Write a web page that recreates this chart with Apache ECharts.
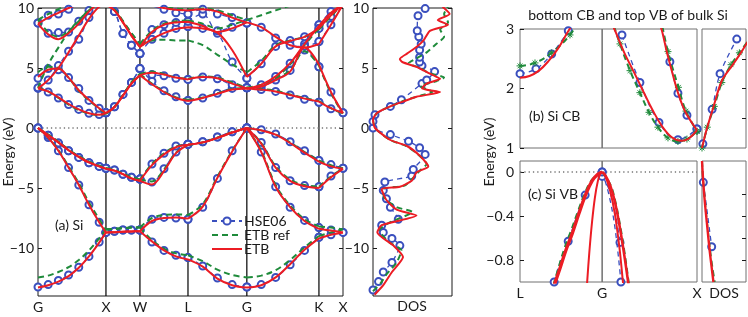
<!DOCTYPE html>
<html><head><meta charset="utf-8">
<script src="https://cdn.jsdelivr.net/npm/echarts@6/dist/echarts.min.js"></script>
<style>html,body{margin:0;padding:0;background:#fff}#c{width:748px;height:317px}</style>
</head><body><div id="c"></div>
<script>
// ---------------- DATA ----------------
// k-path positions (units of 2pi/a) of symmetry points and their labels
const kSym = [0, 1, 1.5, 2.207, 3.073, 4.134, 4.488];
const kLabels = ['G', 'X', 'W', 'L', 'G', 'K', 'X'];
// sampling along the path: G-X | X-W | W-L | L-G | G-K | K-X
const kGrid = [0,0.15,0.3,0.45,0.6,0.75,0.9,1.0, 1.0,1.125,1.25,1.375,1.5, 1.5,1.677,1.854,2.03,2.207, 2.207,2.424,2.64,2.857,3.073, 3.073,3.285,3.497,3.71,3.922,4.134, 4.134,4.311,4.488];
const segEnds = [7, 12, 17, 22, 28];

// ETB bands (eV)
const etb1 = [-13.3,-13.1,-12.8,-12.35,-11.65,-10.7,-9.55,-8.7, -8.7,-8.68,-8.65,-8.62,-8.6, -8.6,-9.45,-10.2,-10.7,-10.95, -10.95,-11.55,-12.55,-13.1,-13.3, -13.3,-13.1,-12.45,-11.35,-10.15,-9.2, -9.2,-8.9,-8.7];
const etb2 = [0,-0.8,-1.9,-3.3,-4.75,-6.4,-7.85,-8.7, -8.7,-8.68,-8.65,-8.62,-8.6, -8.6,-7.75,-7.5,-7.45,-7.55, -7.55,-6.55,-4.15,-1.95,0, 0,-2.0,-4.9,-6.6,-7.75,-8.4, -8.4,-8.55,-8.7];
const etb3 = [0,-0.6,-1.2,-1.85,-2.4,-2.87,-3.2,-3.4, -3.4,-3.55,-3.85,-4.2,-4.4, -4.4,-4.7,-3.6,-2.1,-1.4, -1.4,-1.2,-0.82,-0.38,0, 0,-1.3,-3.3,-4.4,-4.85,-5.0, -5.0,-4.1,-3.4];
const etb4 = [0,-0.6,-1.2,-1.85,-2.4,-2.87,-3.2,-3.4, -3.4,-3.55,-3.85,-4.2,-4.4, -4.4,-3.1,-2.2,-1.6,-1.4, -1.4,-1.2,-0.82,-0.38,0, 0,-0.2,-0.55,-1.25,-2.05,-2.8, -2.8,-3.2,-3.4];
const etb5 = [3.3,3.05,2.55,2.0,1.55,1.23,1.1,1.25, 1.25,1.75,2.7,3.7,4.4, 4.4,3.65,3.0,2.5,2.25, 2.25,2.5,2.85,3.2,3.3, 3.3,3.2,3.05,2.75,2.45,2.2, 2.2,1.65,1.25];
const etb6 = [4.25,4.85,4.95,4.2,3.15,2.35,1.65,1.25, 1.25,1.75,2.7,3.7,4.4, 4.4,4.6,4.45,4.2,4.05, 4.05,4.25,4.15,3.7,3.3, 3.3,3.45,4.0,4.7,6.7,5.3, 5.3,3.0,1.25];
const etb7 = [3.3,4.0,5.0,6.3,7.7,9.1,10.1,10.3, 10.3,9.8,8.8,7.7,6.75, 6.75,7.4,7.9,8.25,8.4, 8.4,8.3,7.95,6.5,4.25, 3.3,3.6,4.3,5.4,7.0,8.5, 8.5,9.6,10.3];
const etb8 = [8.7,9.2,9.6,10.0,10.3,10.4,10.4,10.3, 10.3,9.8,8.8,7.7,6.75, 6.75,8.0,8.6,8.8,8.85, 8.85,8.5,8.0,8.3,8.8, 4.25,5.35,6.8,7.25,7.6,8.3, 8.3,9.4,10.3];
const etb9 = [8.7,7.8,7.4,7.9,8.7,9.7,10.5,11, 11,11,11,11,11, 11,10.3,10.0,9.85,9.8, 9.8,9.9,9.7,9.2,8.8, 8.8,8.4,7.6,6.9,6.7,7.0, 7.0,8.6,10.3];

// ETB ref bands (eV)
const ref1 = [-12.45,-12.3,-12.0,-11.6,-11.0,-10.2,-9.2,-8.45, -8.45,-8.4,-8.35,-8.3,-8.3, -8.3,-9.35,-10.05,-10.45,-10.6, -10.6,-11.1,-11.8,-12.25,-12.45, -12.45,-12.3,-11.85,-11.0,-9.95,-9.0, -9.0,-8.7,-8.45];
const ref2 = [0,-0.8,-1.85,-3.2,-4.6,-6.2,-7.6,-8.45, -8.45,-8.4,-8.35,-8.3,-8.3, -8.3,-7.5,-7.25,-7.2,-7.25, -7.25,-6.35,-4.05,-1.9,0, 0,-1.9,-4.75,-6.45,-7.6,-8.2, -8.2,-8.3,-8.45];
const ref3 = [0,-0.55,-1.15,-1.8,-2.35,-2.8,-3.15,-3.35, -3.35,-3.5,-3.8,-4.1,-4.3, -4.3,-4.45,-3.45,-2.05,-1.4, -1.4,-1.2,-0.8,-0.35,0, 0,-1.25,-3.2,-4.3,-4.75,-4.9, -4.9,-4.05,-3.35];
const ref4 = [0,-0.55,-1.15,-1.8,-2.35,-2.8,-3.15,-3.35, -3.35,-3.5,-3.8,-4.1,-4.3, -4.3,-3.0,-2.1,-1.55,-1.4, -1.4,-1.2,-0.8,-0.35,0, 0,-0.2,-0.55,-1.2,-2.0,-2.7, -2.7,-3.1,-3.35];
const ref5 = [3.35,3.05,2.5,1.95,1.5,1.2,1.08,1.2, 1.2,1.75,2.75,3.8,4.5, 4.5,3.7,3.05,2.55,2.35, 2.35,2.55,2.9,3.25,3.35, 3.35,3.25,3.1,2.8,2.5,2.25, 2.25,1.65,1.2];
const ref6 = [4.65,5.1,5.0,4.2,3.1,2.3,1.6,1.2, 1.2,1.75,2.75,3.8,4.5, 4.5,4.7,4.5,4.2,4.1, 4.1,4.3,4.2,3.8,3.35, 3.35,3.5,4.1,4.8,6.4,5.2, 5.2,2.9,1.2];
const ref7 = [3.35,5.3,6.7,8.0,9.0,9.8,10.3,10.4, 10.4,9.9,8.9,7.9,7.0, 7.0,7.3,7.35,7.3,7.3, 7.3,6.9,6.1,5.3,4.65, 3.35,3.6,4.2,5.3,6.9,8.3, 8.3,9.4,10.4];
const ref8 = [9.0,9.5,9.9,10.3,10.5,10.5,10.4,10.4, 10.4,9.9,8.9,7.9,7.0, 7.0,8.1,8.7,8.9,8.95, 8.95,8.7,8.3,8.6,9.0, 4.65,5.6,6.9,7.3,7.6,8.2, 8.2,9.3,10.4];
const ref9 = [9.0,8.0,7.6,8.1,8.9,9.9,10.6,11, 11,11,11,11,11, 11,10.4,10.1,9.95,9.9, 9.9,9.95,9.8,9.4,9.0, 9.0,9.4,9.8,10.2,10.6,11, 11,11,11];

// HSE06 bands (eV)
const hse1 = [-13.25,-13.05,-12.7,-12.25,-11.6,-10.7,-9.5,-8.7, -8.7,-8.6,-8.5,-8.5,-8.5, -8.5,-9.5,-10.2,-10.6,-10.8, -10.8,-11.5,-12.5,-13.05,-13.25, -13.25,-13.05,-12.45,-11.4,-10.2,-9.1, -9.1,-8.9,-8.7];
const hse2 = [0,-0.8,-1.9,-3.3,-4.75,-6.4,-7.85,-8.7, -8.7,-8.6,-8.5,-8.5,-8.5, -8.5,-7.6,-7.45,-7.5,-7.6, -7.6,-6.6,-4.2,-1.9,0, 0,-2.0,-4.9,-6.6,-7.7,-8.3, -8.3,-8.5,-8.7];
const hse3 = [0,-0.6,-1.25,-1.9,-2.45,-2.9,-3.2,-3.35, -3.35,-3.5,-3.85,-4.1,-4.26, -4.26,-4.5,-3.4,-2.0,-1.35, -1.35,-1.15,-0.75,-0.32,0, 0,-1.2,-3.3,-4.4,-4.8,-4.9, -4.9,-4.0,-3.35];
const hse4 = [0,-0.6,-1.25,-1.9,-2.45,-2.9,-3.2,-3.35, -3.35,-3.5,-3.85,-4.1,-4.26, -4.26,-3.0,-2.1,-1.5,-1.35, -1.35,-1.15,-0.75,-0.32,0, 0,-0.15,-0.5,-1.15,-1.9,-2.7, -2.7,-3.05,-3.35];
const hse5 = [3.3,3.0,2.5,1.95,1.55,1.22,1.12,1.27, 1.27,1.77,2.8,3.8,4.95, 4.95,3.9,3.1,2.6,2.3, 2.3,2.5,2.9,3.3,3.35, 3.35,3.2,3.05,2.75,2.4,2.15, 2.15,1.6,1.27];
const hse6 = [4.15,4.95,4.85,4.2,3.3,2.3,1.65,1.27, 1.27,1.77,2.8,3.8,4.95, 4.95,4.45,4.35,4.15,4.05, 4.05,4.25,4.1,3.6,3.35, 3.35,3.45,4.0,4.8,6.5,5.1, 5.1,3.0,1.27];
const hse7 = [3.35,4.0,5.2,6.4,7.4,9.2,10.2,10.4, 10.4,9.7,7.87,6.9,6.2, 6.2,7.4,7.9,8.3,8.45, 8.45,8.3,7.9,5.5,4.15, 3.35,3.6,4.3,5.4,7.0,8.6, 8.6,9.7,10.4];
const hse8 = [8.75,9.4,9.5,9.9,10.3,10.4,10.4,10.4, 10.4,9.7,7.87,6.9,6.2, 6.2,8.2,8.6,8.8,8.9, 8.9,9.5,8.1,8.4,8.75, 4.15,5.35,6.8,7.3,7.6,8.3, 8.3,9.3,10.4];
const hse9 = [8.75,7.9,7.95,8.0,8.9,9.8,10.5,11, 11,11,11,11,11, 11,10.2,9.9,9.6,9.5, 9.5,9.9,9.5,9.2,8.75, 8.75,8.4,7.5,6.9,6.8,7.2, 7.2,8.6,10.4];

// Density of states [DOS (arb.), E (eV)]
const dosETB = [[0.02,-13.9],[0.13,-13.1],[0.24,-12.0],[0.38,-10.75],[0.26,-9.8],[0.055,-8.7],[0.11,-8.1],[0.55,-7.3],[0.30,-6.8],[0.17,-6.0],[0.11,-5.1],[0.34,-4.9],[0.49,-4.4],[0.55,-3.7],[0.70,-3.2],[0.59,-2.3],[0.43,-1.5],[0.22,-1.0],[0.025,0],[0.0,0.7],[0.05,1.25],[0.22,1.8],[0.38,2.2],[0.55,2.6],[0.85,3.0],[0.62,3.3],[0.68,3.7],[0.85,4.1],[0.76,4.4],[0.64,4.8],[0.55,5.09],[0.37,5.5],[0.34,5.75],[0.43,6.2],[0.55,6.75],[0.64,7.3],[0.72,8.1],[0.95,8.6],[0.82,9.0],[0.97,9.5],[0.88,10.1]];
const dosREF = [[0.0,-13.6],[0.1,-12.9],[0.17,-12.2],[0.3,-11.2],[0.36,-10.2],[0.2,-9.5],[0.08,-8.5],[0.2,-7.9],[0.5,-7.0],[0.3,-6.6],[0.14,-5.8],[0.13,-5.1],[0.4,-4.8],[0.5,-4.2],[0.6,-3.5],[0.68,-3.0],[0.57,-2.2],[0.42,-1.5],[0.22,-1.0],[0.03,-0.05],[0.0,0.7],[0.06,1.3],[0.24,1.85],[0.4,2.3],[0.6,2.7],[0.75,3.0],[0.6,3.5],[0.8,3.9],[0.9,4.2],[0.7,4.6],[0.6,5.0],[0.45,5.4],[0.55,5.8],[0.68,6.3],[0.8,7.0],[0.9,7.6],[0.85,8.2],[0.95,8.8],[0.9,9.5],[0.95,10.1]];
const dosHSE = [[0.0,-13.5],[0.07,-12.8],[0.13,-12.0],[0.24,-11.2],[0.34,-9.8],[0.24,-9.2],[0.13,-8.7],[0.11,-8.1],[0.32,-7.6],[0.22,-6.6],[0.17,-5.9],[0.13,-5.2],[0.15,-4.5],[0.49,-4.0],[0.51,-3.45],[0.66,-2.2],[0.59,-1.65],[0.45,-1.1],[0.22,-0.55],[0.0,0],[0.0,0.55],[0.025,1.1],[0.22,1.8],[0.36,2.35],[0.62,3.7],[0.68,4.0],[0.78,4.7],[0.62,5.2],[0.59,5.5],[0.59,5.9],[0.59,6.5],[0.61,7.0],[0.58,7.6],[0.56,8.1],[0.57,9.35],[0.66,9.95]];

// (b) bottom CB along L-G-X (L=0, G=0.866, X=1.866) [k, E]
const cbL_ETB = [[0,2.18],[0.1,2.21],[0.2,2.3],[0.3,2.46],[0.4,2.67],[0.5,2.94],[0.56,3.1]];
const cbL_REF = [[0,2.38],[0.158,2.43],[0.334,2.6],[0.527,2.9],[0.6,3.1]];
const cbL_HSE = [[0,2.25],[0.168,2.33],[0.334,2.58],[0.509,2.97]];
const cb1_ETB = [[0.98,3.05],[1.0,2.98],[1.1,2.6],[1.2,2.28],[1.3,1.95],[1.4,1.63],[1.5,1.36],[1.6,1.18],[1.7,1.12],[1.78,1.16],[1.866,1.3]];
const cb1_REF = [[0.99,3.05],[1.054,2.75],[1.16,2.3],[1.264,1.93],[1.36,1.6],[1.454,1.35],[1.56,1.17],[1.665,1.11],[1.76,1.15],[1.866,1.28]];
const cb1_HSE = [[1.075,2.9],[1.264,2.1],[1.465,1.43],[1.665,1.14],[1.866,1.32]];
const cb2_ETB = [[1.48,3.05],[1.5,2.95],[1.55,2.6],[1.6,2.3],[1.665,1.93],[1.73,1.65],[1.79,1.48],[1.866,1.3]];
const cb2_REF = [[1.5,3.05],[1.56,2.62],[1.67,2.02],[1.75,1.62],[1.866,1.28]];
const cb2_HSE = [[1.49,3.05],[1.58,2.45],[1.665,1.92],[1.76,1.55],[1.866,1.32]];
const dosB_ETB = [[0,1.0],[0.1,1.3],[0.26,1.69],[0.45,2.13],[0.71,2.41],[0.9,2.62],[1.05,2.8]];
const dosB_REF = [[0,1.0],[0.12,1.35],[0.28,1.7],[0.45,2.1],[0.66,2.4],[0.85,2.6],[1.05,2.8]];
const dosB_HSE = [[0.02,1.07],[0.23,1.65],[0.41,2.25],[0.79,2.83]];

// (c) top VB [k, E]
const vbHH_ETB = [[0.36,-1.03],[0.42,-0.88],[0.48,-0.72],[0.55,-0.56],[0.62,-0.38],[0.69,-0.21],[0.76,-0.08],[0.82,-0.02],[0.866,0]];
const vbLH_ETB = [[0.70,-1.1],[0.73,-0.74],[0.76,-0.45],[0.79,-0.23],[0.82,-0.085],[0.845,-0.02],[0.866,0]];
const vbA_ETB = [[0.866,0],[0.9,-0.03],[0.95,-0.12],[1.0,-0.27],[1.05,-0.49],[1.1,-0.76],[1.14,-1.0],[1.15,-1.07]];
const vbB_ETB = [[0.866,0],[0.9,-0.04],[0.95,-0.17],[1.0,-0.38],[1.05,-0.7],[1.085,-1.0],[1.095,-1.08]];
const vbHH_REF = [[0.35,-1.03],[0.41,-0.86],[0.47,-0.69],[0.54,-0.53],[0.61,-0.36],[0.68,-0.2],[0.75,-0.08],[0.82,-0.02],[0.866,0]];
const vbA_REF = [[0.866,0],[0.95,-0.11],[1.0,-0.25],[1.05,-0.46],[1.1,-0.72],[1.145,-1.0],[1.155,-1.07]];
const vbHH_HSE = [[0.36,-1.0],[0.43,-0.8],[0.508,-0.63],[0.6,-0.4],[0.687,-0.21],[0.78,-0.06],[0.866,0]];
const vbHH_HSEmark = [true, false, true, false, true, false, true];
const vbA_HSE = [[0.866,-0.04],[0.93,-0.14],[1.0,-0.36],[1.054,-0.64]];
const vbB_HSE = [[0.866,0],[0.93,-0.18],[1.0,-0.5],[1.064,-1.0]];
const vbAB_HSEmark = [true, false, false, true];
const dosC_ETB = [[0.0,0.1],[0.03,-0.1],[0.07,-0.3],[0.12,-0.5],[0.17,-0.7],[0.22,-0.87],[0.26,-1.0]];
const dosC_REF = [[0.0,0.1],[0.03,-0.1],[0.075,-0.3],[0.125,-0.5],[0.18,-0.7],[0.24,-0.88],[0.29,-1.0]];
const dosC_HSE = [[0.03,-0.094],[0.22,-0.68]];

// tick labels
const yTicksMain = [-10, -5, 0, 5, 10];
const yTicksCB = [1, 2, 3];
const yTicksVB = [0, -0.4, -0.8];
const xTicksLGX = [0, 0.866, 1.866];
const xLabelsLGX = ['L', 'G', 'X'];

// ---------------- CHART ----------------
const RED = '#ec1c24', GREEN = '#1f8b3b', BLUE = '#3a4fbe', INK = '#1a1a1a', GRAY = '#707070';
const FONT = 'Lato';
const minus = v => String(v).replace('-', '\u2212');

function pathData(vals) {
  const out = [];
  vals.forEach((v, i) => { out.push([kGrid[i], v]); if (segEnds.includes(i)) out.push([kGrid[i], '-']); });
  return out;
}
function marked(pts, flags) { return pts.map((p, i) => flags[i] ? p : {value: p, symbol: 'none'}); }
const series = [];
function addLine(o) { series.push(Object.assign({type: 'line', animation: false, silent: true, clip: true}, o)); }
const styHSE = {name: 'HSE06', symbol: 'emptyCircle', symbolSize: 7, showSymbol: true,
  itemStyle: {color: BLUE, borderWidth: 1.5}, lineStyle: {color: BLUE, width: 1.3, type: [5, 4]}, z: 3};
const styREF = {name: 'ETB ref', symbol: 'none', itemStyle: {color: GREEN}, lineStyle: {color: GREEN, width: 2, type: [6, 4]}, z: 4};
const styETB = {name: 'ETB', symbol: 'none', itemStyle: {color: RED}, lineStyle: {color: RED, width: 2}, z: 5};
const STAR = 'path://M5,0L5,10M0,5L10,5M1.6,1.6L8.4,8.4M1.6,8.4L8.4,1.6';
const styREFb = Object.assign({}, styREF, {name: 'ETB ref b', symbol: STAR, symbolSize: 7, showSymbol: true,
  itemStyle: {color: 'rgba(0,0,0,0)', borderColor: GREEN, borderWidth: 1}});

const at = (xi, yi) => ({xAxisIndex: xi, yAxisIndex: yi});

// main panel
[hse1,hse2,hse3,hse4,hse5,hse6,hse7,hse8,hse9].forEach(b => addLine(Object.assign({}, styHSE, at(0,0), {data: pathData(b), smooth: 0.35})));
[ref1,ref2,ref3,ref4,ref5,ref6,ref7,ref8,ref9].forEach(b => addLine(Object.assign({}, styREF, at(0,0), {data: pathData(b), smooth: 0.35})));
[etb1,etb2,etb3,etb4,etb5,etb6,etb7,etb8,etb9].forEach(b => addLine(Object.assign({}, styETB, at(0,0), {data: pathData(b), smooth: 0.35})));
// symmetry lines & Fermi level
const symLines = [];
kSym.slice(1, -1).forEach(k => { symLines.push([k, -14], [k, 10], [k, '-']); });
addLine(Object.assign(at(0,0), {name: 'sym', data: symLines, symbol: 'none', lineStyle: {color: '#000', width: 1.2}, z: 1}));
addLine(Object.assign(at(0,0), {name: 'ef', data: [[0, 0], [4.488, 0]], symbol: 'none', lineStyle: {color: '#777', width: 1.3, type: [1.3, 3]}, z: 1}));
// main DOS
addLine(Object.assign({}, styHSE, at(1,1), {data: dosHSE, smooth: 0.2}));
addLine(Object.assign({}, styREF, at(1,1), {data: dosREF, smooth: 0.2}));
addLine(Object.assign({}, styETB, at(1,1), {data: dosETB, smooth: 0.2}));
// (b)
[cbL_HSE, cb1_HSE, cb2_HSE].forEach(d => addLine(Object.assign({}, styHSE, at(2,2), {data: d, smooth: 0.4})));
[cbL_REF, cb1_REF, cb2_REF].forEach(d => addLine(Object.assign({}, styREFb, at(2,2), {data: d, smooth: 0.4})));
[cbL_ETB, cb1_ETB, cb2_ETB].forEach(d => addLine(Object.assign({}, styETB, at(2,2), {data: d, smooth: 0.4})));
addLine(Object.assign(at(2,2), {name: 'gl', data: [[0.866, 1], [0.866, 3]], symbol: 'none', lineStyle: {color: GRAY, width: 1.5}, z: 1}));
addLine(Object.assign({}, styHSE, at(3,3), {data: dosB_HSE, smooth: 0.3}));
addLine(Object.assign({}, styREFb, at(3,3), {data: dosB_REF, smooth: 0.3}));
addLine(Object.assign({}, styETB, at(3,3), {data: dosB_ETB, smooth: 0.3}));
// (c)
addLine(Object.assign({}, styHSE, at(4,4), {data: marked(vbHH_HSE, vbHH_HSEmark), smooth: 0.4}));
addLine(Object.assign({}, styHSE, at(4,4), {data: marked(vbA_HSE, vbAB_HSEmark), smooth: 0.4}));
addLine(Object.assign({}, styHSE, at(4,4), {data: marked(vbB_HSE, vbAB_HSEmark), smooth: 0.4}));
[vbHH_REF, vbA_REF].forEach(d => addLine(Object.assign({}, styREF, at(4,4), {data: d, smooth: 0.4})));
addLine(Object.assign({}, styETB, at(4,4), {data: vbHH_ETB, smooth: 0.4, lineStyle: {color: RED, width: 3.4}}));
addLine(Object.assign({}, styETB, at(4,4), {data: vbA_ETB, smooth: 0.4, lineStyle: {color: RED, width: 2.6}}));
addLine(Object.assign({}, styETB, at(4,4), {data: vbLH_ETB, smooth: 0.4}));
addLine(Object.assign({}, styETB, at(4,4), {data: vbB_ETB, smooth: 0.4}));
addLine(Object.assign(at(4,4), {name: 'gl2', data: [[0.866, -1], [0.866, 0.1]], symbol: 'none', lineStyle: {color: GRAY, width: 1.5}, z: 1}));
addLine(Object.assign(at(4,4), {name: 'ef2', data: [[0, 0], [1.866, 0]], symbol: 'none', lineStyle: {color: '#777', width: 1.3, type: [1.3, 3]}, z: 1}));
addLine(Object.assign({}, styHSE, at(5,5), {data: dosC_HSE}));
addLine(Object.assign({}, styREF, at(5,5), {data: dosC_REF, smooth: 0.3}));
addLine(Object.assign({}, styETB, at(5,5), {data: dosC_ETB, smooth: 0.3, lineStyle: {color: RED, width: 2.4}}));

const lblStyle = {fontSize: 14, fontFamily: FONT, color: INK};
function grid(l, t, w, h, col) { return {left: l, top: t, width: w, height: h, show: true, borderColor: col, borderWidth: 1, containLabel: false}; }
function xAx(gi, min, max, label) {
  return {gridIndex: gi, type: 'value', min: min, max: max, axisLine: {show: false}, axisTick: {show: false}, splitLine: {show: false},
    axisLabel: label || {show: false}};
}
function yAx(gi, min, max, pos, ticks, showLabel, margin) {
  return {gridIndex: gi, type: 'value', min: min, max: max, position: pos, axisLine: {show: false}, splitLine: {show: false},
    axisTick: {show: true, inside: true, length: 4, customValues: ticks, lineStyle: {color: INK}},
    axisLabel: showLabel ? Object.assign({customValues: ticks, formatter: minus, margin: margin}, lblStyle) : {show: false}};
}

const option = {
  animation: false,
  backgroundColor: '#fff',
  textStyle: {fontFamily: FONT},
  grid: [
    grid(38, 8, 305, 288, INK),
    grid(373, 8, 79, 288, INK),
    grid(520, 29, 177, 119, GRAY),
    grid(702, 29, 44, 119, GRAY),
    grid(520, 161, 177, 121, GRAY),
    grid(702, 161, 44, 121, GRAY)
  ],
  xAxis: [
    xAx(0, 0, 4.488, Object.assign({customValues: kSym, margin: 4, formatter: v => kLabels[kSym.indexOf(v)]}, lblStyle)),
    xAx(1, 0, 1),
    xAx(2, 0, 1.866),
    xAx(3, 0, 1),
    xAx(4, 0, 1.866, Object.assign({customValues: xTicksLGX, margin: 4, formatter: v => xLabelsLGX[xTicksLGX.indexOf(v)]}, lblStyle)),
    xAx(5, 0, 1)
  ],
  yAxis: [
    yAx(0, -14, 10, 'left', yTicksMain, true, 4),
    yAx(1, -14, 10, 'left', yTicksMain, true, 4),
    yAx(2, 1, 3, 'left', yTicksCB, true, 6),
    yAx(3, 1, 3, 'left', [], false),
    yAx(4, -1, 0.1, 'left', yTicksVB, true, 6),
    yAx(5, -1, 0.1, 'left', [], false),
    yAx(0, -14, 10, 'right', yTicksMain, false),
    yAx(1, -14, 10, 'right', yTicksMain, false),
    yAx(3, 1, 3, 'right', [1.5, 2, 2.5], false),
    yAx(5, -1, 0.1, 'right', [-0.2, -0.4, -0.6, -0.8], false)
  ],
  legend: {
    left: 211, top: 214, padding: 0, orient: 'vertical', itemGap: 0, itemWidth: 30, itemHeight: 9,
    selectedMode: false,
    data: [
      {name: 'HSE06'},
      {name: 'ETB ref', itemStyle: {opacity: 0}},
      {name: 'ETB', itemStyle: {opacity: 0}}
    ],
    textStyle: {fontSize: 14, fontFamily: FONT, color: INK, lineHeight: 13, height: 13, padding: [0, 0, 0, -3]}
  },
  graphic: [
    {type: 'text', x: 8, y: 152, rotation: Math.PI / 2, style: {text: 'Energy (eV)', font: '14px Lato', fill: INK, align: 'center', verticalAlign: 'middle'}},
    {type: 'text', x: 489, y: 152, rotation: Math.PI / 2, style: {text: 'Energy (eV)', font: '14px Lato', fill: INK, align: 'center', verticalAlign: 'middle'}},
    {type: 'text', x: 628, y: 15, style: {text: 'bottom CB and top VB of bulk Si', font: '14px Lato', fill: INK, align: 'center', verticalAlign: 'middle'}},
    {type: 'text', x: 55, y: 225, style: {text: '(a) Si', font: '14px Lato', fill: INK, align: 'left', verticalAlign: 'middle'}},
    {type: 'text', x: 529, y: 116, style: {text: '(b) Si CB', font: '14px Lato', fill: INK, align: 'left', verticalAlign: 'middle'}},
    {type: 'text', x: 528, y: 194, style: {text: '(c) Si VB', font: '14px Lato', fill: INK, align: 'left', verticalAlign: 'middle'}},
    {type: 'text', x: 412, y: 306, style: {text: 'DOS', font: '14px Lato', fill: INK, align: 'center', verticalAlign: 'middle'}},
    {type: 'text', x: 724, y: 293, style: {text: 'DOS', font: '14px Lato', fill: INK, align: 'center', verticalAlign: 'middle'}}
  ],
  series: series
};
const chart = echarts.init(document.getElementById('c'));
chart.setOption(option);
</script>
</body></html>
